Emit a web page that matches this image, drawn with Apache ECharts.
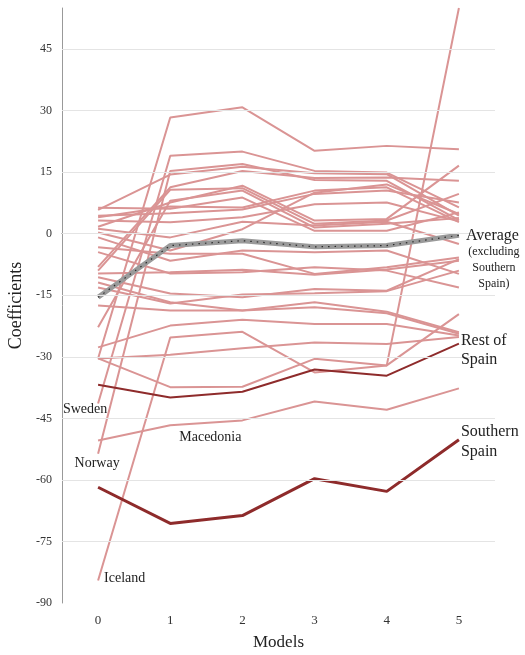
<!DOCTYPE html>
<html>
<head>
<meta charset="utf-8">
<script src="https://cdn.jsdelivr.net/npm/echarts@6/dist/echarts.min.js"></script>
<style>
  html, body { margin: 0; padding: 0; background: #fff; }
  #chart { width: 525px; height: 655px; }
</style>
</head>
<body>
<div id="chart"></div>
<script>
// Model specifications on the horizontal axis
const models = ['0', '1', '2', '3', '4', '5'];
// Horizontal reference lines
const gridValues = [-75, -60, -45, -30, -15, 0, 15, 30, 45];

// Highlighted regions
const averageExclSouth = [-15.5, -2.9, -1.7, -3.2, -2.9, -0.4];
const restOfSpain      = [-36.8, -39.9, -38.5, -33.1, -34.6, -26.8];
const southernSpain    = [-61.8, -70.6, -68.7, -59.7, -62.8, -50.2];

// Named countries
const sweden    = [-41.4, 19.0, 20.0, 15.3, 14.9, 6.4];
const norway    = [-53.6, 15.3, 17.0, 13.1, 12.9, 3.3];
const iceland   = [-84.5, -25.3, -23.9, -33.8, -32.1, 55.0];
const macedonia = [-50.4, -46.7, -45.5, -40.9, -42.9, -37.7];

// Remaining countries
const otherCountries = [
  [-30.4, 28.3, 30.8, 20.2, 21.4, 20.6],
  [6.3, 6.1, 8.8, 0.7, 0.7, 5.2],
  [5.8, 14.4, 16.3, 14.7, 14.5, 4.4],
  [4.4, 5.0, 5.9, 9.7, 10.5, 7.6],
  [4.0, 6.6, 6.4, 10.5, 11.3, 2.8],
  [3.2, 2.8, 4.0, 7.2, 7.6, 3.0],
  [1.7, 7.6, 11.7, 3.2, 3.6, 16.6],
  [1.2, -0.9, 2.9, 2.0, 2.9, -2.5],
  [0.3, -4.1, 1.1, 10.0, 12.0, 4.8],
  [-0.9, -6.6, -4.1, -4.5, -4.1, -9.8],
  [-3.3, -4.9, -4.9, -9.8, -8.2, -5.8],
  [-4.5, -9.7, -9.4, -8.2, -9.0, -13.1],
  [-9.7, -9.4, -8.8, -10.0, -8.7, -6.6],
  [-8.1, 11.3, 15.3, 13.6, 13.7, 12.9],
  [-9.0, 10.7, 11.1, 2.4, 3.2, 9.7],
  [-22.8, 8.0, 10.5, 1.5, 2.4, 3.8],
  [-10.6, -14.6, -15.5, -13.5, -13.9, -6.2],
  [-11.9, -16.7, -18.7, -17.9, -19.4, -24.4],
  [-13.1, -17.0, -14.8, -14.5, -14.0, -9.0],
  [-17.5, -18.7, -18.7, -16.7, -19.0, -24.0],
  [-30.4, -37.4, -37.3, -30.5, -32.1, -19.6],
  [-27.7, -22.4, -21.0, -22.0, -22.0, -24.8],
  [-30.4, -29.5, -27.9, -26.5, -26.9, -25.2]
];

const FONT = '"Liberation Serif", "DejaVu Serif", serif';
const PINK = '#da9494';
const DARK_RED = '#8e2b2b';

function countryLine(values) {
  return {
    type: 'line', data: values, symbol: 'none', silent: true, z: 2,
    lineStyle: { color: PINK, width: 2 }
  };
}

const series = [
  {
    // gridlines
    type: 'line', data: [], silent: true, z: 1,
    markLine: {
      silent: true, symbol: 'none', label: { show: false },
      lineStyle: { color: '#e4e4e4', width: 1, type: 'solid' },
      data: gridValues.map(v => ({ yAxis: v }))
    }
  },
  ...otherCountries.map(countryLine),
  countryLine(sweden),
  countryLine(norway),
  countryLine(iceland),
  countryLine(macedonia),
  {
    type: 'line', data: restOfSpain, symbol: 'none', silent: true, z: 3,
    lineStyle: { color: DARK_RED, width: 2 }
  },
  {
    type: 'line', data: southernSpain, symbol: 'none', silent: true, z: 3,
    lineStyle: { color: DARK_RED, width: 3 }
  },
  {
    type: 'line', data: averageExclSouth, symbol: 'none', silent: true, z: 4,
    lineStyle: { color: '#9a9a9a', width: 5 }
  },
  {
    type: 'line', data: averageExclSouth, symbol: 'none', silent: true, z: 5,
    lineStyle: { color: '#2a2a2a', width: 1.2, type: [1.5, 5] }
  }
];

const chart = echarts.init(document.getElementById('chart'), null, { renderer: 'canvas' });
chart.setOption({
  animation: false,
  backgroundColor: '#fff',
  grid: { left: 62, right: 30, top: 8, bottom: 52, containLabel: false, outerBoundsMode: 'none' },
  xAxis: {
    type: 'category', data: models, boundaryGap: true,
    name: 'Models', nameLocation: 'middle', nameGap: 31,
    nameTextStyle: { fontFamily: FONT, fontSize: 17, color: '#222' },
    axisLine: { lineStyle: { color: '#777', width: 1.2 } },
    axisTick: { show: false },
    axisLabel: { fontFamily: FONT, fontSize: 13, color: '#333', margin: 11 }
  },
  yAxis: {
    type: 'value', min: -90, max: 55, interval: 15,
    name: 'Coefficients', nameLocation: 'middle', nameGap: 36,
    nameTextStyle: { fontFamily: FONT, fontSize: 18, color: '#222' },
    axisLine: { show: true, lineStyle: { color: '#999', width: 1 } },
    axisTick: { show: false },
    splitLine: { show: false },
    axisLabel: {
      fontFamily: FONT, fontSize: 12, color: '#333', margin: 10,
      formatter: v => (v % 15 === 0 ? String(v) : '')
    }
  },
  series
});

// Text labels anchored to the data points they describe
function at(idx, value) {
  return chart.convertToPixel({ xAxisIndex: 0, yAxisIndex: 0 }, [idx, value]);
}
function text(pos, dx, dy, content, size, align) {
  return {
    type: 'text', x: pos[0] + dx, y: pos[1] + dy, silent: true, z: 10,
    style: {
      text: content, fontFamily: FONT, fontSize: size, fill: '#222',
      align: align || 'left', verticalAlign: 'middle'
    }
  };
}

const last = models.length - 1;
const pAvg = at(last, averageExclSouth[last]);
const pRest = at(last, restOfSpain[last]);
const pSouth = at(last, southernSpain[last]);
const pSweden = at(0, sweden[0]);
const pNorway = at(0, norway[0]);
const pIceland = at(0, iceland[0]);
const pMacedonia = at(1, macedonia[1]);

chart.setOption({
  graphic: [
    text(pAvg, 7, 0, 'Average', 16, 'left'),
    text(pAvg, 35, 17, '(excluding', 12, 'center'),
    text(pAvg, 35, 33, 'Southern', 12, 'center'),
    text(pAvg, 35, 49, 'Spain)', 12, 'center'),
    text(pRest, 2, -3, 'Rest of', 16, 'left'),
    text(pRest, 2, 16, 'Spain', 16, 'left'),
    text(pSouth, 2, -8, 'Southern', 16, 'left'),
    text(pSouth, 2, 12, 'Spain', 16, 'left'),
    text(pSweden, -13, 6, 'Sweden', 14, 'center'),
    text(pNorway, -1, 10, 'Norway', 14, 'center'),
    text(pIceland, 6, -2, 'Iceland', 14, 'left'),
    text(pMacedonia, 9, 12, 'Macedonia', 14, 'left')
  ]
});
</script>
</body>
</html>
